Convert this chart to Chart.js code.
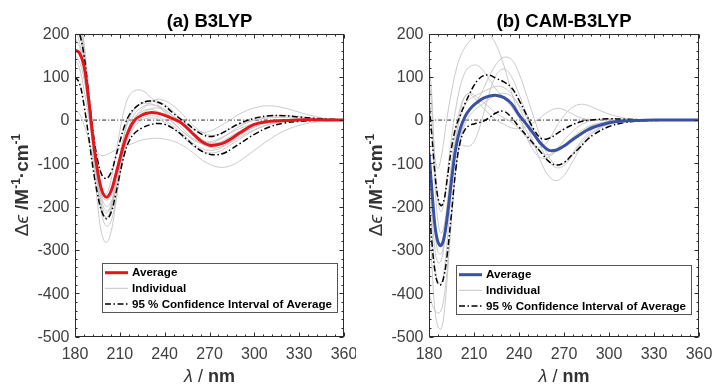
<!DOCTYPE html>
<html>
<head>
<meta charset="utf-8">
<script src="https://cdn.jsdelivr.net/npm/chart.js@4.4.1/dist/chart.umd.min.js"></script>
<style>
  body { margin: 0; background: #fff; }
  .panel { position: absolute; top: 0; }
</style>
</head>
<body>
<canvas id="chartA" class="panel" width="356" height="385" style="left:0"></canvas>
<canvas id="chartB" class="panel" width="356" height="385" style="left:356px"></canvas>
<script>
// ---- data ----
const xTicks = [180, 210, 240, 270, 300, 330, 360];
const yTicks = [-500, -400, -300, -200, -100, 0, 100, 200];
const legendLabels = ["Average", "Individual", "95 % Confidence Interval of Average"];

// (a) B3LYP
const waveA = [180,183,186,189,192,195,198,201,204,207,210,213,216,220,225,230,235,240,245,250,255,260,265,270,275,280,285,290,300,310,320,330,340,350,360];
const avgA = [162,155,125,50,-40,-115,-163,-178,-165,-130,-90,-52,-24,0,12,17,16,11,4,-4,-18,-35,-50,-58,-57,-52,-42,-30,-10,-3,-1,0,1,0,0];
const upperA = [224,200,150,65,-25,-90,-127,-135,-122,-88,-50,-15,10,28,40,44,42,33,18,4,-8,-22,-33,-38,-35,-27,-17,-8,4,10,10,7,4,2,0];
const lowerA = [100,85,35,-35,-110,-170,-212,-228,-215,-175,-125,-80,-50,-30,-18,-11,-8,-10,-18,-30,-45,-60,-72,-79,-80,-76,-66,-55,-33,-16,-7,-3,-1,0,0];
const indivA = [
    [260,230,150,40,-80,-190,-265,-283,-260,-200,-125,-60,-15,15,30,35,33,25,12,-2,-18,-33,-45,-52,-53,-50,-42,-33,-16,-6,-2,0,0,0,0],
    [23,15,-10,-45,-90,-140,-175,-185,-175,-145,-100,-60,-30,-8,5,10,8,0,-12,-26,-42,-56,-66,-70,-68,-60,-50,-40,-22,-10,-4,-1,0,0,0],
    [140,120,70,10,-45,-75,-82,-80,-75,-70,-66,-62,-58,-52,-46,-43,-42,-44,-48,-55,-65,-78,-92,-102,-108,-109,-104,-95,-70,-45,-25,-12,-5,-2,0],
    [280,250,180,80,-30,-120,-165,-170,-140,-85,-25,25,55,68,68,55,38,18,-2,-20,-35,-45,-50,-50,-45,-37,-28,-20,-8,-2,0,0,0,0,0],
    [230,200,140,50,-50,-150,-220,-245,-235,-190,-130,-75,-35,-5,15,25,28,22,10,-5,-22,-40,-55,-63,-64,-58,-48,-36,-16,-5,0,2,1,0,0],
    [250,215,150,55,-45,-140,-200,-215,-195,-145,-85,-35,0,25,40,45,44,36,22,6,-10,-22,-28,-26,-18,-8,3,14,28,33,28,18,9,3,1],
    [210,180,120,35,-60,-150,-210,-225,-210,-165,-110,-60,-25,5,25,40,48,45,35,20,2,-15,-28,-35,-34,-27,-18,-10,0,5,6,4,2,1,0],
    [190,170,120,45,-40,-120,-180,-200,-190,-155,-110,-70,-40,-15,0,5,3,-5,-17,-32,-48,-62,-72,-76,-74,-66,-55,-44,-24,-10,-3,0,1,0,0],
    [270,240,170,70,-40,-140,-205,-225,-205,-150,-85,-30,5,28,38,38,32,20,5,-12,-30,-45,-55,-58,-55,-46,-36,-26,-10,-2,1,2,1,0,0],
    [150,135,95,30,-50,-130,-190,-210,-200,-160,-105,-55,-20,5,20,25,20,10,-5,-20,-35,-48,-55,-55,-48,-38,-26,-15,0,8,10,8,4,2,0]
];

// (b) CAM-B3LYP
const waveB = [180,182,184,186,188,190,192,195,198,201,204,207,210,213,216,220,225,230,235,240,245,250,255,260,265,270,275,280,285,290,300,310,320,330,340,350,360];
const avgB = [-77,-165,-245,-282,-290,-272,-228,-140,-62,-18,8,24,35,43,50,55,57,52,38,12,-10,-33,-56,-70,-69,-60,-47,-35,-24,-16,-6,-2,-1,0,0,0,0];
const upperB = [38,-40,-125,-180,-198,-185,-140,-65,-15,12,38,60,80,94,102,104,96,88,75,46,12,-22,-43,-42,-32,-21,-12,-5,-1,1,3,2,1,0,0,0,0];
const lowerB = [-192,-285,-350,-378,-380,-360,-315,-215,-110,-48,-22,-12,-9,-6,-3,5,17,20,6,-16,-36,-56,-76,-96,-104,-98,-82,-65,-47,-33,-15,-6,-2,-1,0,0,0];
const indivB = [
    [135,50,-90,-112,-88,-45,5,65,115,148,168,182,193,199,202,198,172,125,65,10,-38,-72,-88,-85,-68,-47,-28,-14,-5,0,3,2,1,0,0,0,0],
    [-200,-340,-440,-478,-483,-450,-370,-230,-110,-40,0,20,35,50,70,100,130,145,140,108,58,5,-45,-85,-105,-100,-80,-55,-35,-20,-6,-1,0,0,0,0,0],
    [100,20,-100,-185,-212,-190,-130,-40,30,80,110,123,127,125,115,95,70,50,30,5,-25,-55,-75,-80,-72,-58,-42,-28,-17,-10,-3,0,0,0,0,0,0],
    [-400,-425,-440,-446,-440,-410,-350,-220,-110,-45,-10,10,22,30,38,48,58,62,55,35,5,-30,-65,-95,-110,-105,-85,-60,-40,-25,-8,-2,0,0,0,0,0],
    [60,-30,-150,-235,-262,-245,-195,-100,-20,30,55,62,58,50,42,30,15,5,-5,-20,-40,-60,-62,-45,-15,10,28,36,35,28,14,5,1,0,0,0,0],
    [-40,-150,-260,-305,-310,-285,-225,-120,-40,10,35,48,55,60,65,72,78,75,60,30,-10,-55,-100,-130,-140,-128,-100,-70,-45,-28,-10,-3,0,0,0,0,0],
    [-120,-220,-300,-330,-325,-290,-220,-120,-70,-58,-60,-60,-50,-25,10,60,105,118,100,60,15,-25,-55,-70,-72,-62,-48,-33,-20,-12,-4,-1,0,0,0,0,0],
    [-150,-260,-340,-375,-378,-350,-285,-160,-50,20,55,60,52,40,28,15,0,-10,-18,-20,-15,-5,8,20,27,24,15,7,2,0,0,0,0,0,0,0,0]
];

// ---- styling ----
const FONT = '"Liberation Sans", Arial, "DejaVu Sans", sans-serif';
const AXIS_COLOR = "#2b2b2b";
const LABEL_COLOR = "#404040";
const GRAY = "#c4c4c4";
const CI_DASH = [6, 2.5, 1.5, 2.5];
const X_MINOR = 6;
const Y_MINOR = 20;

function toPoints(wave, vals) {
    return wave.map((x, i) => ({ x: x, y: vals[i] }));
}

// draws a run of text pieces with different fonts, centred on (x, y)
function drawParts(ctx, parts, x, y, rotate) {
    ctx.save();
    ctx.translate(x, y);
    if (rotate) ctx.rotate(-Math.PI / 2);
    let total = 0;
    parts.forEach(p => { ctx.font = p.font; total += ctx.measureText(p.text).width; });
    let cx = -total / 2;
    ctx.textAlign = "left";
    ctx.textBaseline = "middle";
    parts.forEach(p => {
        ctx.font = p.font;
        ctx.fillText(p.text, cx, p.sup ? -6 : 0);
        cx += ctx.measureText(p.text).width;
    });
    ctx.restore();
}

const framePlugin = {
    id: "frame",
    afterDatasetsDraw(chart, args, opts) {
        const ctx = chart.ctx;
        const area = chart.chartArea;
        const xs = chart.scales.x, ys = chart.scales.y;
        const L = Math.round(area.left) + 0.5, R = Math.round(area.right) - 0.5;
        const T = Math.round(area.top) + 0.5, B = Math.round(area.bottom) - 0.5;

        ctx.save();
        ctx.strokeStyle = AXIS_COLOR;
        ctx.lineWidth = 1;
        ctx.setLineDash([]);
        ctx.beginPath();
        // inward ticks, all four sides
        for (let v = xs.min; v <= xs.max; v += X_MINOR) {
            const px = Math.round(xs.getPixelForValue(v)) + 0.5;
            const len = xTicks.includes(v) ? 4 : 2;
            ctx.moveTo(px, B); ctx.lineTo(px, B - len);
            ctx.moveTo(px, T); ctx.lineTo(px, T + len);
        }
        for (let v = ys.min; v <= ys.max; v += Y_MINOR) {
            const py = Math.round(ys.getPixelForValue(v)) + 0.5;
            const len = yTicks.includes(v) ? 4 : 2;
            ctx.moveTo(L, py); ctx.lineTo(L + len, py);
            ctx.moveTo(R, py); ctx.lineTo(R - len, py);
        }
        ctx.stroke();
        ctx.strokeRect(L, T, R - L, B - T);

        // tick labels
        ctx.fillStyle = LABEL_COLOR;
        ctx.font = "16px " + FONT;
        ctx.textAlign = "center";
        ctx.textBaseline = "middle";
        xTicks.forEach(v => ctx.fillText(String(v), xs.getPixelForValue(v), area.bottom + 18.5));
        ctx.textAlign = "right";
        yTicks.forEach(v => ctx.fillText(String(v), area.left - 5.5, ys.getPixelForValue(v) + 1));

        // titles
        ctx.fillStyle = "#000";
        ctx.font = "bold 18.5px " + FONT;
        ctx.textAlign = "center";
        ctx.fillText(opts.title, (area.left + area.right) / 2, 21.5);

        ctx.fillStyle = "#333";
        drawParts(ctx, [
            { text: "λ", font: "italic 18px " + FONT },
            { text: " / ", font: "18px " + FONT },
            { text: "nm", font: "bold 18px " + FONT }
        ], (area.left + area.right) / 2, 377, false);

        drawParts(ctx, [
            { text: "Δ", font: "19px " + FONT },
            { text: "ϵ", font: "italic 19px " + FONT },
            { text: " /M", font: "bold 19px " + FONT },
            { text: "-1", font: "bold 12px " + FONT, sup: true },
            { text: "·cm", font: "bold 19px " + FONT },
            { text: "-1", font: "bold 12px " + FONT, sup: true }
        ], area.left - 52, 185, true);

        // legend box
        const lx = area.left + 27, ly = opts.legendTop, lw = 235, lh = 49;
        ctx.fillStyle = "#fff";
        ctx.fillRect(lx, ly, lw, lh);
        ctx.strokeStyle = "#555";
        ctx.lineWidth = 1;
        ctx.strokeRect(Math.round(lx) + 0.5, Math.round(ly) + 0.5, lw, lh);

        const rows = [
            { color: opts.avgColor, width: 3, dash: [] },
            { color: GRAY, width: 1, dash: [] },
            { color: "#000", width: 1.5, dash: CI_DASH }
        ];
        ctx.font = "bold 11.6px " + FONT;
        ctx.textAlign = "left";
        ctx.textBaseline = "middle";
        rows.forEach((r, i) => {
            const ry = ly + 9.7 + i * 15.6;
            ctx.beginPath();
            ctx.strokeStyle = r.color;
            ctx.lineWidth = r.width;
            ctx.setLineDash(r.dash);
            ctx.moveTo(lx + 3, ry);
            ctx.lineTo(lx + 26, ry);
            ctx.stroke();
            ctx.fillStyle = "#000";
            ctx.fillText(legendLabels[i], lx + 30, ry + 0.5);
        });
        ctx.restore();
    }
};

function buildDatasets(wave, avg, upper, lower, indiv, avgColor) {
    let sets = [];
    sets.push({
        data: [{ x: 180, y: 0 }, { x: 360, y: 0 }],
        borderColor: "#111", borderWidth: 0.9, borderDash: [4, 2, 1, 2], order: 4
    });
    indiv.forEach(vals => {
        sets.push({ data: toPoints(wave, vals), borderColor: GRAY, borderWidth: 0.9, order: 3 });
    });
    sets.push({ data: toPoints(wave, upper), borderColor: "#000", borderWidth: 1.5, borderDash: CI_DASH, order: 2 });
    sets.push({ data: toPoints(wave, lower), borderColor: "#000", borderWidth: 1.5, borderDash: CI_DASH, order: 2 });
    sets.push({ data: toPoints(wave, avg), borderColor: avgColor, borderWidth: 3, order: 1 });
    return sets;
}

function renderPanel(id, datasets, padding, frameOpts) {
    const ctx = document.getElementById(id).getContext("2d");
    return new Chart(ctx, {
        type: "line",
        data: { datasets: datasets },
        options: {
            responsive: false,
            animation: false,
            devicePixelRatio: 1,
            layout: { padding: padding },
            elements: {
                point: { radius: 0 },
                line: { tension: 0.4, fill: false }
            },
            datasets: { line: { clip: 0 } },
            scales: {
                x: { type: "linear", min: 180, max: 360, display: false },
                y: { type: "linear", min: -500, max: 200, display: false }
            },
            plugins: {
                legend: { display: false },
                tooltip: { enabled: false },
                frame: frameOpts
            }
        },
        plugins: [framePlugin]
    });
}

const RED = "#e3161d";
const BLUE = "#3a51a3";

renderPanel("chartA",
    buildDatasets(waveA, avgA, upperA, lowerA, indivA, RED),
    { left: 75, right: 12, top: 33.5, bottom: 48.5 },
    { title: "(a) B3LYP", avgColor: RED, legendTop: 263 });

renderPanel("chartB",
    buildDatasets(waveB, avgB, upperB, lowerB, indivB, BLUE),
    { left: 73, right: 13, top: 33.5, bottom: 48.5 },
    { title: "(b) CAM-B3LYP", avgColor: BLUE, legendTop: 265 });
</script>
</body>
</html>
